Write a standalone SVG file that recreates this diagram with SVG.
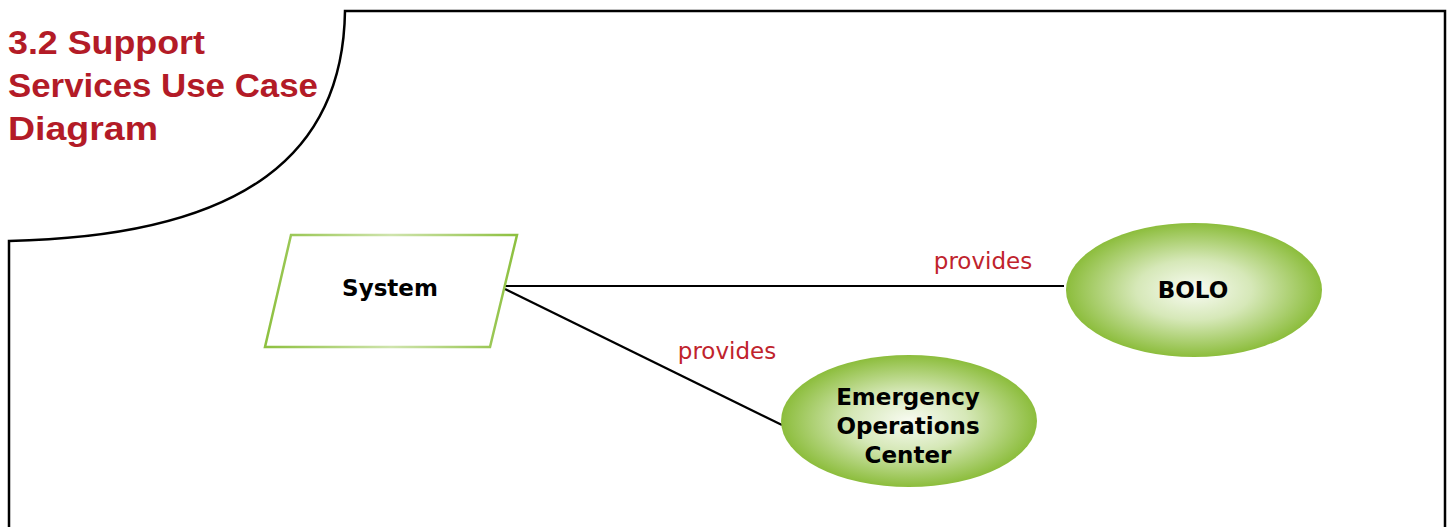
<svg xmlns="http://www.w3.org/2000/svg" width="1450" height="527" viewBox="0 0 1450 527">
<style>
.frame{fill:none;stroke:#000;stroke-width:2.5}
.title{font-family:"Liberation Sans",Arial,sans-serif;font-weight:bold;font-size:34px;fill:#b31b27}
.lbl{font-family:"DejaVu Sans",Verdana,sans-serif;font-weight:bold;font-size:23px;fill:#000;text-anchor:middle}
.rel{font-family:"DejaVu Sans",Verdana,sans-serif;font-size:23px;fill:#c0232c;text-anchor:middle}
.conn{stroke:#000;stroke-width:2.2;fill:none}
</style>
<defs>
<linearGradient id="pg" x1="0" y1="0" x2="1" y2="0">
<stop offset="0" stop-color="#8dc03f"/>
<stop offset="0.5" stop-color="#cfe4ad"/>
<stop offset="1" stop-color="#8dc03f"/>
</linearGradient>
<radialGradient id="eg" cx="0.5" cy="0.5" r="0.5">
<stop offset="0" stop-color="#f8fbf2"/>
<stop offset="0.45" stop-color="#d6e8b8"/>
<stop offset="1" stop-color="#8cbd3c"/>
</radialGradient>
</defs>
<rect width="1450" height="527" fill="#fff"/>
<g id="frame">
<path class="frame" d="M 9,530 L 9,241 C 250,236 343,150 345,11 L 1445,11 L 1445,530"/>
</g>
<g id="title">
<text class="title" x="8" y="54" textLength="197" lengthAdjust="spacingAndGlyphs">3.2 Support</text>
<text class="title" x="8" y="97" textLength="310" lengthAdjust="spacingAndGlyphs">Services Use Case</text>
<text class="title" x="8" y="140" textLength="150" lengthAdjust="spacingAndGlyphs">Diagram</text>
</g>
<g id="connectors">
<line class="conn" x1="505" y1="286" x2="1064" y2="286"/>
<line class="conn" x1="505" y1="289" x2="782" y2="425"/>
<text class="rel" x="983" y="269">provides</text>
<text class="rel" x="727" y="359">provides</text>
</g>
<g id="system">
<polygon points="291,235 517,235 490,347 265,347" fill="#fff" stroke="url(#pg)" stroke-width="2.5"/>
<text class="lbl" x="390" y="296">System</text>
</g>
<g id="bolo">
<ellipse cx="1194" cy="290" rx="128" ry="67" fill="url(#eg)"/>
<text class="lbl" x="1193" y="298">BOLO</text>
</g>
<g id="eoc">
<ellipse cx="909" cy="421" rx="128" ry="66" fill="url(#eg)"/>
<text class="lbl" x="908" y="405">Emergency</text>
<text class="lbl" x="908" y="434">Operations</text>
<text class="lbl" x="908" y="463">Center</text>
</g>
</svg>
